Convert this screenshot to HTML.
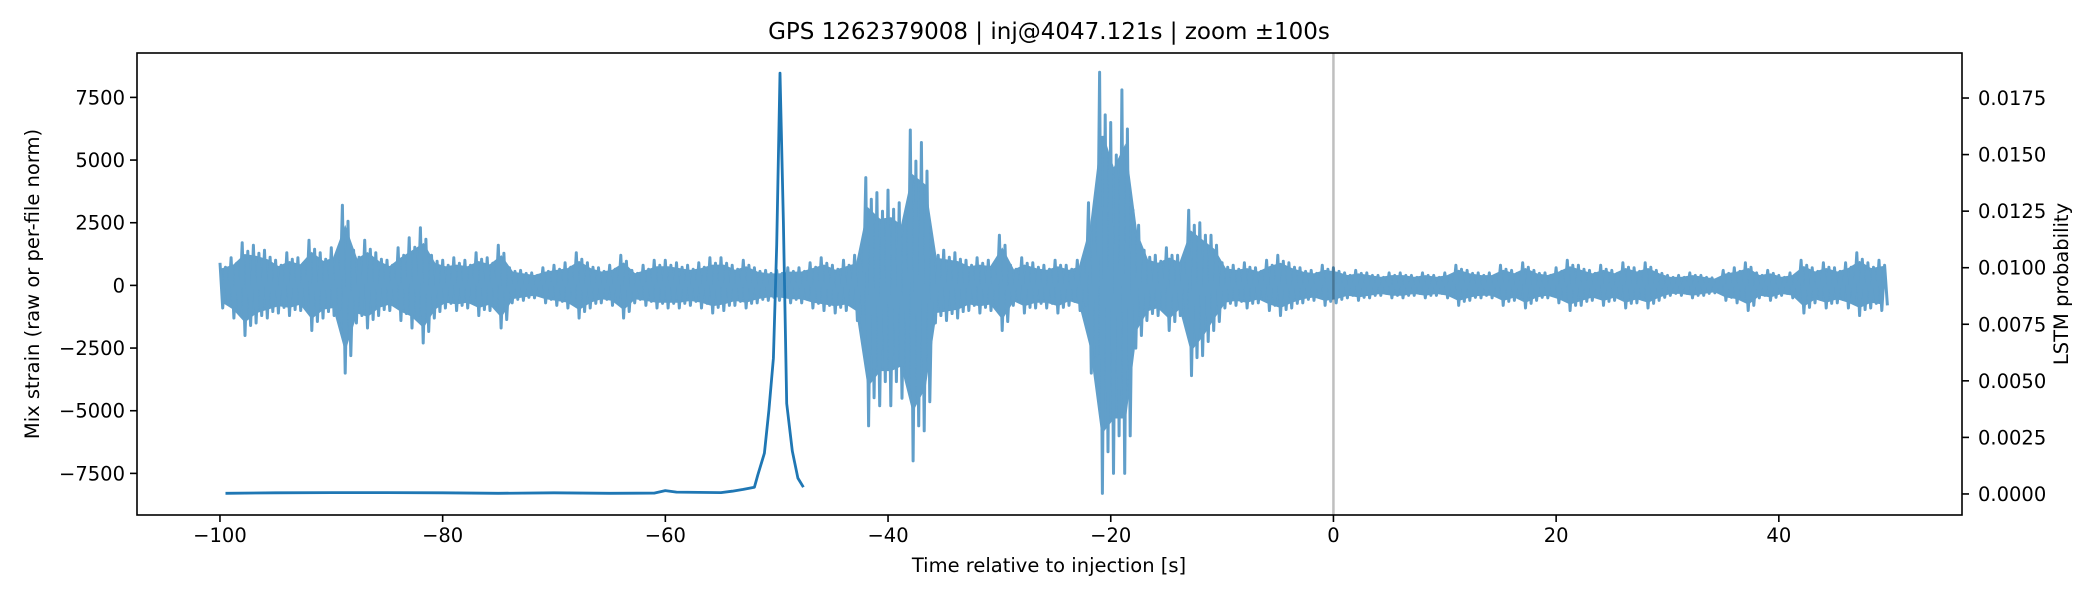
<!DOCTYPE html>
<html><head><meta charset="utf-8"><style>
html,body{margin:0;padding:0;background:#fff;}
svg text{font-family:"DejaVu Sans","Liberation Sans",sans-serif;fill:#000;}
</style></head><body>
<svg id="chart" width="2100" height="600" viewBox="0 0 2100 600" xmlns="http://www.w3.org/2000/svg">
<rect width="2100" height="600" fill="#fff"/>
<text x="1049" y="39" font-size="23" text-anchor="middle">GPS 1262379008 | inj@4047.121s | zoom ±100s</text>
<g id="plot"></g>
<text x="1049" y="572" font-size="19.5" text-anchor="middle">Time relative to injection [s]</text>
<text transform="translate(39,284) rotate(-90)" font-size="19.5" text-anchor="middle">Mix strain (raw or per-file norm)</text>
<text transform="translate(2068,284) rotate(-90)" font-size="19.5" text-anchor="middle">LSTM probability</text>
</svg>
<script>
// strain envelope per second, t = -100 .. 49
const strainTimes = [];
for (let t = -100; t <= 49; t++) strainTimes.push(t);
const strainUpper = [
900,1100,1700,1600,1400,1000,1300,1100,1800,1300,
1500,3200,1400,1800,1300,1000,1500,1900,2300,1200,
1000,1100,1000,1300,1100,1600,700,600,500,700,
800,900,1300,900,700,800,1200,600,800,1000,
1000,900,800,900,1100,1100,800,1000,700,600,
600,700,700,900,1100,800,1000,1200,4300,3700,
3800,3300,6200,5700,1500,1400,1300,1000,1100,1000,
2000,800,1100,900,800,1000,800,1000,3300,8500,
6500,7800,3000,1400,1200,1500,1200,3000,2500,2000,
900,800,900,700,1000,1200,900,700,600,800,
700,500,600,500,400,500,500,400,500,400,
500,800,600,500,500,800,600,900,600,500,
700,1000,800,600,800,600,900,700,900,600,
400,400,500,400,300,600,700,900,500,600,
400,500,1000,700,900,700,900,1300,900,1000];
const strainLower = [
-900,-1300,-2000,-1500,-1300,-1100,-1200,-1000,-1800,-1300,
-1200,-3500,-1500,-1700,-1200,-1000,-1400,-1700,-2300,-1300,
-900,-1000,-900,-1200,-1000,-1700,-700,-600,-500,-700,
-800,-900,-1300,-900,-700,-800,-1300,-700,-800,-900,
-900,-900,-800,-900,-1100,-1000,-800,-900,-700,-600,
-600,-700,-700,-900,-1000,-1100,-1000,-1400,-5600,-4800,
-4800,-4500,-7000,-5800,-1500,-1400,-1300,-1000,-1100,-1000,
-1800,-800,-1100,-900,-900,-1100,-800,-1000,-3500,-8300,
-7500,-7500,-2500,-1400,-1200,-1800,-1200,-3600,-2800,-1800,
-900,-800,-900,-700,-1000,-1200,-900,-700,-600,-800,
-700,-500,-600,-500,-400,-500,-500,-400,-500,-400,
-500,-800,-600,-500,-500,-800,-600,-900,-600,-500,
-700,-1000,-800,-600,-800,-600,-900,-700,-900,-600,
-400,-400,-500,-400,-300,-600,-700,-1000,-500,-600,
-400,-500,-1100,-700,-900,-700,-900,-1200,-900,-1000];
const probTimes = [-99.5,-95,-90,-85,-80,-75,-70,-65,-61,-60,-59,-55,-54,-53,-52,-51.7,-51.1,-50.7,-50.3,-50.0,-49.7,-49.4,-49.1,-48.6,-48.1,-47.6];
const probValues = [0.00003,0.00005,0.00006,0.00006,0.00005,0.00003,0.00005,0.00003,0.00004,0.00015,0.00008,0.00006,0.00012,0.00020,0.00030,0.00084,0.0018,0.0037,0.0060,0.0110,0.0186,0.0120,0.0040,0.0019,0.0007,0.0003];
const xTicks = [-100,-80,-60,-40,-20,0,20,40];
const xTickLabels = ["\u2212100","\u221280","\u221260","\u221240","\u221220","0","20","40"];
const yLeftTicks = [-7500,-5000,-2500,0,2500,5000,7500];
const yLeftTickLabels = ["\u22127500","\u22125000","\u22122500","0","2500","5000","7500"];
const yRightTicks = [0,0.0025,0.005,0.0075,0.01,0.0125,0.015,0.0175];
const yRightTickLabels = ["0.0000","0.0025","0.0050","0.0075","0.0100","0.0125","0.0150","0.0175"];

const L=137,R=1962,T=53,B=515;
const xMin=-107.45,xMax=56.45, yLMin=-9160,yLMax=9271, yRMin=-0.00093,yRMax=0.01949;
const sx=v=>L+(v-xMin)/(xMax-xMin)*(R-L);
const syL=v=>B-(v-yLMin)/(yLMax-yLMin)*(B-T);
const syR=v=>B-(v-yRMin)/(yRMax-yRMin)*(B-T);
const NS='http://www.w3.org/2000/svg';
const g=document.getElementById('plot');
function mk(tag,attrs,parent){const e=document.createElementNS(NS,tag);for(const k in attrs)e.setAttribute(k,attrs[k]);(parent||g).appendChild(e);return e;}

// strain zigzag through envelope
let pts=[];
for(let i=0;i<strainTimes.length;i++){
  const t=strainTimes[i];
  pts.push(sx(t).toFixed(1)+','+syL(strainUpper[i]).toFixed(1));
  pts.push(sx(t+0.25).toFixed(1)+','+syL(strainLower[i]).toFixed(1));
  pts.push(sx(t+0.5).toFixed(1)+','+syL(strainUpper[i]*0.8).toFixed(1));
  pts.push(sx(t+0.75).toFixed(1)+','+syL(strainLower[i]*0.8).toFixed(1));
}
let poly=[];
for(let i=0;i<strainTimes.length;i++) poly.push(sx(strainTimes[i]+0.25).toFixed(1)+','+syL(strainUpper[i]*0.7).toFixed(1));
for(let i=strainTimes.length-1;i>=0;i--) poly.push(sx(strainTimes[i]+0.25).toFixed(1)+','+syL(strainLower[i]*0.7).toFixed(1));
const sg=mk('g',{opacity:'0.7'});


const band=mk('polygon',{points:poly.join(' '),fill:'#1f77b4',stroke:'#1f77b4','stroke-width':'3'},sg);


const sl=mk('polyline',{points:pts.join(' '),fill:'none',stroke:'#1f77b4','stroke-width':'3','stroke-linejoin':'round'},sg);



// injection line
const vl=mk('line',{x1:sx(0),x2:sx(0),y1:T,y2:B,stroke:'#000','stroke-opacity':'0.25','stroke-width':'2.5'});



// probability
const pp=probTimes.map((t,i)=>sx(t).toFixed(1)+','+syR(probValues[i]).toFixed(1)).join(' ');
const pl=mk('polyline',{points:pp,fill:'none',stroke:'#1f77b4','stroke-width':'2.8','stroke-linejoin':'round'});



// frame
const fr=mk('rect',{x:L,y:T,width:R-L,height:B-T,fill:'none',stroke:'#000','stroke-width':'1.6'});



xTicks.forEach((v,i)=>{
  const x=sx(v);
  const tk=mk('line',{x1:x,x2:x,y1:B,y2:B+7,stroke:'#000','stroke-width':'1.6'});
  
  
  const tx=mk('text',{x:x,y:B+27,'font-size':'19.5','text-anchor':'middle'});
  
  
  tx.textContent=xTickLabels[i];
});
yLeftTicks.forEach((v,i)=>{
  const y=syL(v);
  const tk=mk('line',{x1:L-7,x2:L,y1:y,y2:y,stroke:'#000','stroke-width':'1.6'});
  
  
  const tx=mk('text',{x:L-12,y:y+7,'font-size':'19.5','text-anchor':'end'});
  
  
  tx.textContent=yLeftTickLabels[i];
});
yRightTicks.forEach((v,i)=>{
  const y=syR(v);
  const tk=mk('line',{x1:R,x2:R+7,y1:y,y2:y,stroke:'#000','stroke-width':'1.6'});
  
  
  const tx=mk('text',{x:R+16,y:y+7,'font-size':'19.5','text-anchor':'start'});
  
  
  tx.textContent=yRightTickLabels[i];
});
</script>
</body></html>
